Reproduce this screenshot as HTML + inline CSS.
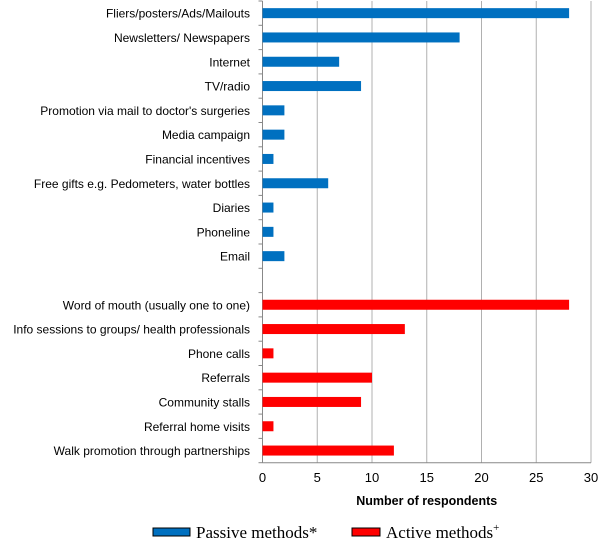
<!DOCTYPE html>
<html><head><meta charset="utf-8"><style>
html,body{margin:0;padding:0;background:#fff;width:600px;height:543px;overflow:hidden}
svg text{font-family:"Liberation Sans",sans-serif}
</style></head><body>
<svg id="chart" width="600" height="543"></svg>
<script>
const categories=["Fliers/posters/Ads/Mailouts","Newsletters/ Newspapers","Internet","TV/radio","Promotion via mail to doctor's surgeries","Media campaign","Financial incentives","Free gifts e.g. Pedometers, water bottles","Diaries","Phoneline","Email","","Word of mouth (usually one to one)","Info sessions to groups/ health professionals","Phone calls","Referrals","Community stalls","Referral home visits","Walk promotion through partnerships"];
const values=[28,18,7,9,2,2,1,6,1,1,2,null,28,13,1,10,9,1,12];
const groups=["p","p","p","p","p","p","p","p","p","p","p","","a","a","a","a","a","a","a"];
const xTicks=[0,5,10,15,20,25,30];
const NS="http://www.w3.org/2000/svg";
const svg=document.getElementById('chart');
const x0=262.5,x1=591,yTop=1,bot=462.7,xMax=30;
const xs=v=>x0+(x1-x0)*v/xMax;
const rowH=(bot-yTop)/categories.length;
const ys=i=>yTop+rowH*(i+0.5);
function mk(t,a){const e=document.createElementNS(NS,t);for(const k in a)e.setAttribute(k,a[k]);svg.appendChild(e);return e;}
xTicks.forEach(t=>{
 if(t>0){const g=mk('line',{x1:xs(t),x2:xs(t),y1:yTop,y2:bot,stroke:'#b0b0b0','stroke-width':1});
 
 }
 const l=mk('text',{x:xs(t),y:482,'font-size':13,'text-anchor':'middle',fill:'#000'});l.textContent=t;
 
 
});
const ax=mk('line',{x1:x0,x2:x0,y1:yTop,y2:bot,stroke:'#888'});


const bx=mk('line',{x1:x0,x2:x1,y1:bot,y2:bot,stroke:'#888'});


for(let i=0;i<=categories.length;i++){mk('line',{x1:x0-4,x2:x0,y1:yTop+rowH*i,y2:yTop+rowH*i,stroke:'#888'});}
categories.forEach((c,i)=>{
 if(c){const t=mk('text',{x:250,y:ys(i)+4.5,'font-size':12,'text-anchor':'end',fill:'#000'});t.textContent=c;
 
 }
 if(values[i]!=null){
  const r=mk('rect',{x:x0,y:ys(i)-5,width:xs(values[i])-x0,height:10,fill:groups[i]==='p'?'#0070c0':'#ff0000'});
  
  
 }
});
const at=mk('text',{x:xs(15),y:505,'font-size':12.5,'font-weight':'bold','text-anchor':'middle'});at.textContent='Number of respondents';


const lp=mk('rect',{x:153,y:528,width:37,height:8,fill:'#0070c0',stroke:'#000','stroke-width':1});


const lt=mk('text',{x:196,y:538,'font-size':17,style:'font-family:"Liberation Serif",serif'});lt.textContent='Passive methods*';


const la=mk('rect',{x:352,y:528,width:28,height:8,fill:'#ff0000',stroke:'#000','stroke-width':1});


const lt2=mk('text',{x:386,y:538,'font-size':17,style:'font-family:"Liberation Serif",serif'});lt2.innerHTML='Active methods<tspan dy="-7" font-size="11">+</tspan>';


</script>
</body></html>
